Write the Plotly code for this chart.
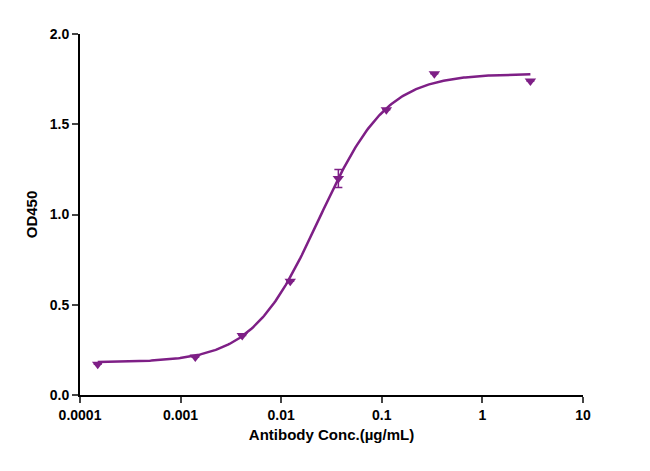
import numpy as np
import plotly.graph_objects as go

conc = [0.00015, 0.0014, 0.0041, 0.0123, 0.037, 0.111, 0.333, 3.0]
od450 = [0.17, 0.21, 0.33, 0.63, 1.20, 1.58, 1.78, 1.74]
od_err = [0.0, 0.0, 0.0, 0.0, 0.05, 0.0, 0.0, 0.0]

# 4PL fit parameters
bottom, top, ec50, hill = 0.18, 1.78, 0.024, 1.3

xs = np.logspace(np.log10(0.00015), np.log10(3.0), 300)
fit = bottom + (top - bottom) / (1 + (ec50 / xs) ** hill)

purple = "#7E1F86"
fig = go.Figure()
fig.add_trace(go.Scatter(x=xs, y=fit, mode="lines",
                         line=dict(color=purple, width=2.5), showlegend=False))
fig.add_trace(go.Scatter(x=conc, y=od450, mode="markers",
                         marker=dict(symbol="triangle-down", size=10, color=purple),
                         error_y=dict(type="data", array=od_err, color=purple, width=4, thickness=1.5),
                         showlegend=False))

font = dict(family="Liberation Sans", size=14, color="black")
fig.update_layout(
    width=650, height=471, margin=dict(l=72, r=75, t=26, b=84),
    plot_bgcolor="white", paper_bgcolor="white", font=font,
    xaxis=dict(type="log", range=[-4, 1], tickvals=[0.0001, 0.001, 0.01, 0.1, 1, 10],
               ticktext=["<b>0.0001</b>", "<b>0.001</b>", "<b>0.01</b>", "<b>0.1</b>", "<b>1</b>", "<b>10</b>"],
               showline=True, linecolor="black", linewidth=2, ticks="outside",
               tickwidth=2, ticklen=6, showgrid=False, zeroline=False,
               title=dict(text="<b>Antibody Conc.(µg/mL)</b>", standoff=8, font=dict(size=15))),
    yaxis=dict(range=[0, 2.0], tickvals=[0, 0.5, 1.0, 1.5, 2.0],
               ticktext=["<b>0.0</b>", "<b>0.5</b>", "<b>1.0</b>", "<b>1.5</b>", "<b>2.0</b>"],
               showline=True, linecolor="black", linewidth=2, ticks="outside",
               tickwidth=2, ticklen=6, showgrid=False, zeroline=False,
               title=dict(text="<b>OD450</b>", standoff=8, font=dict(size=15))),
)
fig.write_html("out.html")
